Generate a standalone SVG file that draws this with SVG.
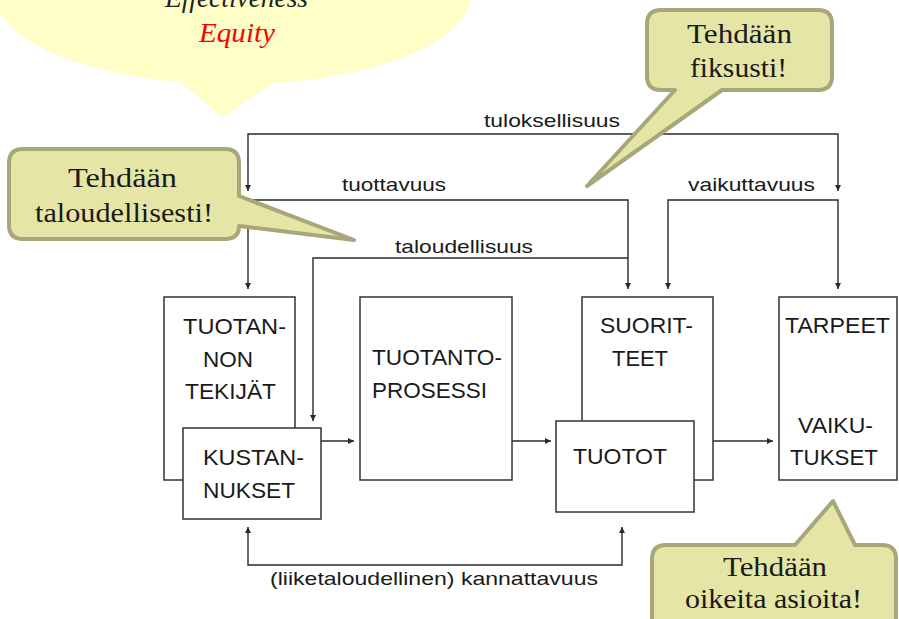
<svg xmlns="http://www.w3.org/2000/svg" width="899" height="619" viewBox="0 0 899 619">
<style>
.box{fill:#fff;stroke:#333;stroke-width:1.5}
.bt{font-family:"Liberation Sans",Arial,sans-serif;font-size:22px;fill:#1a1a1a}
.lb{font-family:"Liberation Sans",Arial,sans-serif;font-size:19px;fill:#1a1a1a}
.ct{font-family:"Liberation Serif","Times New Roman",serif;font-size:27px;fill:#1a1a1a}
.it{font-family:"Liberation Serif","Times New Roman",serif;font-size:27px;font-style:italic}
.call{fill:#e5e6a6;stroke:#a8a77a;stroke-width:4;stroke-linejoin:round}
.con{fill:none;stroke:#2a2a2a;stroke-width:1.4}
</style>
<defs>
<marker id="ah" viewBox="0 0 10 10" refX="10" refY="5" markerWidth="6" markerHeight="6" markerUnits="userSpaceOnUse" orient="auto">
<path d="M0,0 L10,5 L0,10 Z" fill="#2a2a2a"/>
</marker>
</defs>

<g id="bubble-top">
<path d="M180,82 A238,90 0 1 1 273,83 L222,117 Z" fill="#fefec6"/>
<text class="it" x="165" y="7" textLength="143" lengthAdjust="spacingAndGlyphs" fill="#222">Effectiveness</text>
<text class="it" x="199" y="42" textLength="76" lengthAdjust="spacingAndGlyphs" fill="#ff0000">Equity</text>
</g>

<g id="connectors">
<path class="con" d="M543,134 H248 V191" marker-end="url(#ah)"/>
<path class="con" d="M543,134 H838 V191" marker-end="url(#ah)"/>
<path class="con" d="M440,200 H248 V289" marker-end="url(#ah)"/>
<path class="con" d="M440,200 H628 V289" marker-end="url(#ah)"/>
<path class="con" d="M750,200 H668 V289" marker-end="url(#ah)"/>
<path class="con" d="M750,200 H838 V289" marker-end="url(#ah)"/>
<path class="con" d="M628,258 H313 V421" marker-end="url(#ah)"/>
<path class="con" d="M321,441 H354" marker-end="url(#ah)"/>
<path class="con" d="M512,441 H551" marker-end="url(#ah)"/>
<path class="con" d="M713,441 H773" marker-end="url(#ah)"/>
<path class="con" d="M435,565 H248 V527" marker-end="url(#ah)"/>
<path class="con" d="M435,565 H622 V527" marker-end="url(#ah)"/>
<text class="lb" x="484" y="127" textLength="136" lengthAdjust="spacingAndGlyphs">tuloksellisuus</text>
<text class="lb" x="342" y="191" textLength="104" lengthAdjust="spacingAndGlyphs">tuottavuus</text>
<text class="lb" x="395" y="253" textLength="138" lengthAdjust="spacingAndGlyphs">taloudellisuus</text>
<text class="lb" x="688" y="191" textLength="127" lengthAdjust="spacingAndGlyphs">vaikuttavuus</text>
<text class="lb" x="270" y="585" textLength="328" lengthAdjust="spacingAndGlyphs">(liiketaloudellinen) kannattavuus</text>
</g>

<g id="tuotannon-tekijat">
<rect class="box" x="164" y="297" width="131" height="183"/>
<text class="bt" x="183" y="334" textLength="103" lengthAdjust="spacingAndGlyphs">TUOTAN-</text>
<text class="bt" x="203" y="367" textLength="50" lengthAdjust="spacingAndGlyphs">NON</text>
<text class="bt" x="185" y="399" textLength="91" lengthAdjust="spacingAndGlyphs">TEKIJÄT</text>
</g>
<g id="kustannukset">
<rect class="box" x="183" y="428" width="138" height="91"/>
<text class="bt" x="203" y="465" textLength="101" lengthAdjust="spacingAndGlyphs">KUSTAN-</text>
<text class="bt" x="203" y="498" textLength="92" lengthAdjust="spacingAndGlyphs">NUKSET</text>
</g>
<g id="tuotantoprosessi">
<rect class="box" x="360" y="297" width="152" height="183"/>
<text class="bt" x="372" y="365" textLength="130" lengthAdjust="spacingAndGlyphs">TUOTANTO-</text>
<text class="bt" x="372" y="398" textLength="115" lengthAdjust="spacingAndGlyphs">PROSESSI</text>
</g>
<g id="suoritteet">
<rect class="box" x="582" y="297" width="131" height="183"/>
<text class="bt" x="600" y="333" textLength="93" lengthAdjust="spacingAndGlyphs">SUORIT-</text>
<text class="bt" x="612" y="366" textLength="56" lengthAdjust="spacingAndGlyphs">TEET</text>
</g>
<g id="tuotot">
<rect class="box" x="556" y="421" width="138" height="91"/>
<text class="bt" x="573" y="464" textLength="94" lengthAdjust="spacingAndGlyphs">TUOTOT</text>
</g>
<g id="tarpeet">
<rect class="box" x="779" y="297" width="118" height="183"/>
<text class="bt" x="785" y="333" textLength="105" lengthAdjust="spacingAndGlyphs">TARPEET</text>
<text class="bt" x="798" y="433" textLength="75" lengthAdjust="spacingAndGlyphs">VAIKU-</text>
<text class="bt" x="790" y="465" textLength="88" lengthAdjust="spacingAndGlyphs">TUKSET</text>
</g>

<g id="callout-taloudellisesti">
<path class="call" d="M23,149 H225 Q239,149 239,163 V196 L354,240 L239,226 Q239,239 225,239 H23 Q9,239 9,225 V163 Q9,149 23,149 Z"/>
<text class="ct" x="68" y="187" textLength="109" lengthAdjust="spacingAndGlyphs">Tehdään</text>
<text class="ct" x="35" y="222" textLength="178" lengthAdjust="spacingAndGlyphs">taloudellisesti!</text>
</g>
<g id="callout-fiksusti">
<path class="call" d="M661,10 H818 Q832,10 832,24 V76 Q832,90 818,90 H722 L587,186 L675,90 H661 Q647,90 647,76 V24 Q647,10 661,10 Z"/>
<text class="ct" x="687" y="43" textLength="105" lengthAdjust="spacingAndGlyphs">Tehdään</text>
<text class="ct" x="690" y="77" textLength="97" lengthAdjust="spacingAndGlyphs">fiksusti!</text>
</g>
<g id="callout-oikeita">
<path class="call" d="M666,545 H795 L833,501 L855,545 H882 Q896,545 896,559 V640 H652 V559 Q652,545 666,545 Z"/>
<text class="ct" x="723" y="576" textLength="104" lengthAdjust="spacingAndGlyphs">Tehdään</text>
<text class="ct" x="685" y="608" textLength="177" lengthAdjust="spacingAndGlyphs">oikeita asioita!</text>
</g>
</svg>
